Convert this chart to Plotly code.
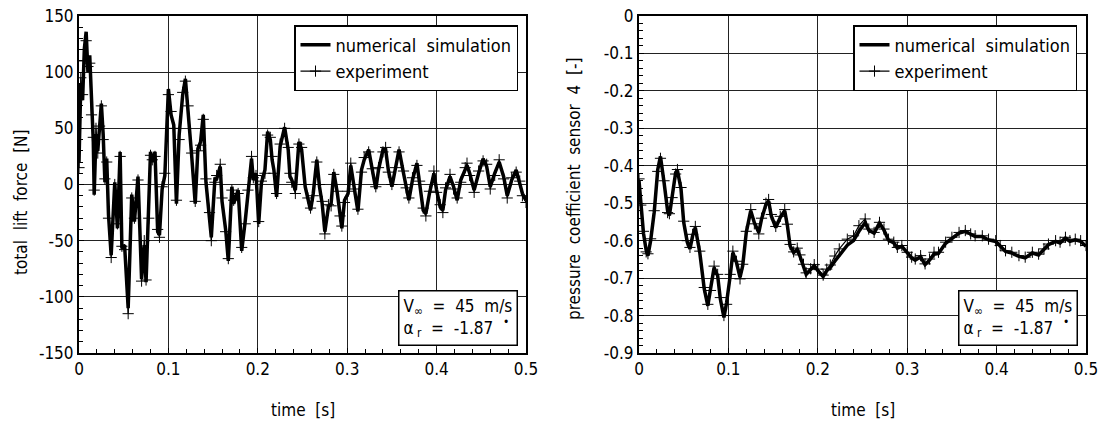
import plotly.graph_objects as go

# ---------------- data: left panel (total lift force) ----------------
t_left = [
    0.000, 0.002, 0.004, 0.006, 0.008, 0.010, 0.012, 0.014, 0.016, 0.017,
    0.019, 0.021, 0.023, 0.025, 0.027, 0.029, 0.031, 0.033, 0.036, 0.040,
    0.043, 0.046, 0.048, 0.051, 0.055, 0.059, 0.062, 0.066, 0.070, 0.073,
    0.075, 0.078, 0.080, 0.082, 0.085, 0.088, 0.090, 0.093, 0.096, 0.100,
    0.103, 0.106, 0.109, 0.112, 0.116, 0.119, 0.122, 0.126, 0.130, 0.133,
    0.136, 0.139, 0.142, 0.146, 0.148, 0.152, 0.154, 0.158, 0.160, 0.164,
    0.167, 0.171, 0.173, 0.178, 0.182, 0.186, 0.189, 0.193, 0.195, 0.198,
    0.201, 0.204, 0.208, 0.211, 0.214, 0.216, 0.218, 0.221, 0.225, 0.230,
    0.234, 0.236, 0.238, 0.242, 0.246, 0.249, 0.253, 0.256, 0.259, 0.262,
    0.266, 0.269, 0.272, 0.275, 0.279, 0.282, 0.285, 0.289, 0.292, 0.294,
    0.297, 0.301, 0.304, 0.308, 0.312, 0.316, 0.319, 0.324, 0.328, 0.332,
    0.335, 0.340, 0.343, 0.346, 0.350, 0.354, 0.358, 0.363, 0.366, 0.369,
    0.373, 0.378, 0.381, 0.385, 0.388, 0.392, 0.397, 0.400, 0.404, 0.407,
    0.410, 0.415, 0.419, 0.423, 0.427, 0.432, 0.434, 0.437, 0.442, 0.447,
    0.452, 0.456, 0.460, 0.465, 0.470, 0.475, 0.479, 0.484, 0.489, 0.493,
    0.496, 0.500,
]
sim_left = [
    20, 90, 75, 121, 136, 100, 115, 68, 38, -9,
    45, 30, 55, 72, 45, 2, 23, -27, -63, 2,
    -39, 29, -57, -54, -110, -9, -33, 7, -84, -54,
    -87, -27, 29, 20, 29, -42, -45, -4, 8, 85,
    62, 53, -17, 44, 80, 94, 68, 26, -17, 32,
    38, 62, 2, -27, -47, 5, 5, 16, -15, -40,
    -68, -2, -17, -5, -59, -32, -8, 23, 4, 10,
    -35, 1, 13, 47, 40, 22, 13, -11, 34, 51,
    31, 7, 4, -5, 38, 31, -2, -14, -23, -8,
    22, -2, -17, -42, -20, -17, 11, -8, -26, -39,
    -14, -8, 17, -2, -24, 13, 22, 31, 12, -4,
    13, 31, 31, 13, -2, 13, 31, 10, -1, -14,
    4, 19, 1, -23, -26, -8, 10, -5, -20, -23,
    -5, 7, -2, -14, 4, 13, 17, 10, -5, 10,
    23, 16, -2, 10, 20, 7, -10, 4, 13, 1,
    -8, -14,
]
exp_left = [
    15, 95, 80, 110, 128, 105, 108, 62, 42, -5,
    50, 28, 52, 70, 40, 5, 20, -30, -65, 0,
    -35, 25, -55, -58, -115, -12, -30, 4, -86, -50,
    -85, -30, 26, 22, 25, -40, -47, -2, 10, 80,
    65, 50, -14, 40, 82, 92, 70, 28, -15, 30,
    35, 58, 5, -25, -50, 2, 8, 18, -12, -42,
    -66, -5, -14, -8, -56, -35, -5, 25, 6, 8,
    -33, 3, 10, 44, 42, 25, 10, -8, 36, 50,
    33, 10, 2, -8, 36, 33, 0, -12, -21, -10,
    20, 0, -15, -44, -18, -19, 9, -6, -28, -37,
    -16, -6, 19, -4, -22, 11, 24, 29, 14, -2,
    15, 29, 33, 11, 0, 15, 29, 12, -3, -12,
    6, 17, 3, -21, -28, -6, 12, -7, -18, -25,
    -3, 9, -4, -12, 2, 15, 19, 8, -7, 12,
    21, 18, -4, 8, 22, 5, -12, 6, 11, 3,
    -10, -16,
]

# ---------------- data: right panel (pressure coefficient sensor 4) ----------------
t_right = [
    0.000, 0.002, 0.005, 0.008, 0.010, 0.013, 0.017, 0.021, 0.024, 0.028,
    0.032, 0.034, 0.037, 0.041, 0.043, 0.047, 0.050, 0.054, 0.057, 0.060,
    0.063, 0.068, 0.073, 0.077, 0.080, 0.084, 0.088, 0.091, 0.095, 0.098,
    0.102, 0.105, 0.109, 0.113, 0.116, 0.120, 0.125, 0.129, 0.134, 0.137,
    0.142, 0.145, 0.148, 0.153, 0.158, 0.163, 0.166, 0.169, 0.173, 0.177,
    0.180, 0.184, 0.187, 0.192, 0.196, 0.200, 0.206, 0.210, 0.214, 0.219,
    0.224, 0.233, 0.240, 0.246, 0.253, 0.257, 0.263, 0.269, 0.274, 0.279,
    0.285, 0.289, 0.294, 0.300, 0.305, 0.309, 0.315, 0.320, 0.325, 0.330,
    0.335, 0.343, 0.350, 0.358, 0.365, 0.371, 0.376, 0.384, 0.391, 0.399,
    0.404, 0.410, 0.417, 0.425, 0.432, 0.440, 0.447, 0.453, 0.458, 0.466,
    0.471, 0.477, 0.482, 0.488, 0.494, 0.500,
]
sim_right = [
    -0.44, -0.50, -0.58, -0.625, -0.64, -0.60, -0.524, -0.41, -0.375, -0.444,
    -0.52, -0.533, -0.489, -0.418, -0.413, -0.462, -0.551, -0.604, -0.622, -0.587,
    -0.565, -0.632, -0.729, -0.774, -0.729, -0.672, -0.694, -0.756, -0.805, -0.765,
    -0.694, -0.632, -0.658, -0.698, -0.667, -0.578, -0.52, -0.552, -0.578, -0.543,
    -0.503, -0.494, -0.534, -0.565, -0.538, -0.52, -0.56, -0.614, -0.632, -0.623,
    -0.641, -0.667, -0.69, -0.677, -0.667, -0.68, -0.696, -0.68, -0.672, -0.655,
    -0.64, -0.612, -0.60, -0.575, -0.552, -0.572, -0.58, -0.553, -0.572, -0.598,
    -0.606, -0.62, -0.615, -0.633, -0.646, -0.652, -0.643, -0.664, -0.652, -0.636,
    -0.634, -0.607, -0.593, -0.58, -0.575, -0.584, -0.589, -0.589, -0.598, -0.602,
    -0.615, -0.629, -0.633, -0.642, -0.646, -0.633, -0.638, -0.624, -0.611, -0.602,
    -0.606, -0.593, -0.602, -0.598, -0.602, -0.615,
]
exp_right = [
    -0.435, -0.505, -0.575, -0.63, -0.635, -0.595, -0.52, -0.415, -0.38, -0.44,
    -0.525, -0.528, -0.485, -0.422, -0.41, -0.458, -0.548, -0.60, -0.618, -0.583,
    -0.562, -0.628, -0.725, -0.77, -0.733, -0.668, -0.69, -0.752, -0.80, -0.77,
    -0.69, -0.628, -0.655, -0.702, -0.663, -0.575, -0.517, -0.555, -0.582, -0.54,
    -0.50, -0.49, -0.53, -0.562, -0.535, -0.517, -0.556, -0.61, -0.63, -0.62,
    -0.638, -0.663, -0.686, -0.675, -0.664, -0.676, -0.692, -0.676, -0.665, -0.641,
    -0.622, -0.596, -0.587, -0.56, -0.542, -0.569, -0.578, -0.551, -0.569, -0.596,
    -0.604, -0.618, -0.613, -0.631, -0.644, -0.649, -0.64, -0.662, -0.649, -0.631,
    -0.631, -0.604, -0.591, -0.578, -0.573, -0.582, -0.587, -0.587, -0.596, -0.60,
    -0.613, -0.627, -0.631, -0.64, -0.644, -0.631, -0.636, -0.622, -0.609, -0.60,
    -0.604, -0.591, -0.60, -0.596, -0.60, -0.613,
]

# ---------------- tick labels ----------------
x_tickvals = [0, 0.1, 0.2, 0.3, 0.4, 0.5]
x_ticktext = ["0", "0.1", "0.2", "0.3", "0.4", "0.5"]
yl_tickvals = [150, 100, 50, 0, -50, -100, -150]
yl_ticktext = ["150", "100", "50", "0", "-50", "-100", "-150"]
yr_tickvals = [0, -0.1, -0.2, -0.3, -0.4, -0.5, -0.6, -0.7, -0.8, -0.9]
yr_ticktext = ["0", "-0.1", "-0.2", "-0.3", "-0.4", "-0.5", "-0.6", "-0.7", "-0.8", "-0.9"]

W, H = 1105, 424
FONT = "DejaVu Sans Condensed, DejaVu Sans, sans-serif"
SP = "\u00a0\u00a0"


def px(p):
    return p / W


def py(p):
    return 1 - p / H


fig = go.Figure()

for (t, sim, exp, xa, ya, lg) in [
    (t_left, sim_left, exp_left, "x", "y", "legend"),
    (t_right, sim_right, exp_right, "x2", "y2", "legend2"),
]:
    fig.add_trace(go.Scatter(
        x=t, y=sim, mode="lines", name="numerical\u00a0\u00a0simulation",
        line=dict(color="black", width=3.5), xaxis=xa, yaxis=ya, legend=lg,
    ))
    fig.add_trace(go.Scatter(
        x=t, y=exp, mode="lines+markers", name="experiment",
        line=dict(color="black", width=1.2),
        marker=dict(symbol="cross-thin", size=8, color="black",
                    line=dict(color="black", width=1)),
        xaxis=xa, yaxis=ya, legend=lg,
    ))

common = dict(
    showline=True, linecolor="black", linewidth=2, mirror=True,
    showgrid=True, gridcolor="#222222", gridwidth=1,
    ticks="inside", ticklen=5, tickcolor="black", tickwidth=1,
    tickfont=dict(family=FONT, size=17, color="black"),
    zeroline=False, tickmode="array", automargin=False,
)

y0, y1 = py(353), py(16)

fig.update_layout(
    template="none",
    width=W, height=H,
    margin=dict(l=0, r=0, t=0, b=0, autoexpand=False),
    paper_bgcolor="white", plot_bgcolor="white",
    font=dict(family=FONT, size=17, color="black"),
    xaxis=dict(domain=[px(79), px(526)], range=[0, 0.5], anchor="y",
               tickvals=x_tickvals, ticktext=x_ticktext,
               minor=dict(dtick=0.02, ticks="inside", ticklen=4, tickcolor="black", showgrid=False),
               **common),
    yaxis=dict(domain=[y0, y1], range=[-150, 150], anchor="x",
               tickvals=yl_tickvals, ticktext=yl_ticktext,
               minor=dict(dtick=10, ticks="inside", ticklen=4, tickcolor="black", showgrid=False),
               **common),
    xaxis2=dict(domain=[px(639), px(1086)], range=[0, 0.5], anchor="y2",
                tickvals=x_tickvals, ticktext=x_ticktext,
                minor=dict(dtick=0.02, ticks="inside", ticklen=4, tickcolor="black", showgrid=False),
                **common),
    yaxis2=dict(domain=[y0, y1], range=[-0.9, 0], anchor="x2",
                tickvals=yr_tickvals, ticktext=yr_ticktext,
                minor=dict(dtick=0.02, ticks="inside", ticklen=4, tickcolor="black", showgrid=False),
                **common),
    legend=dict(x=px(518), y=py(25), xanchor="right", yanchor="top",
                bordercolor="black", borderwidth=1.5, bgcolor="white",
                font=dict(family=FONT, size=18, color="black"), tracegroupgap=0),
    legend2=dict(x=px(1077), y=py(25), xanchor="right", yanchor="top",
                 bordercolor="black", borderwidth=1.5, bgcolor="white",
                 font=dict(family=FONT, size=18, color="black"), tracegroupgap=0),
)

box_text = ("V<sub>\u221e</sub>\u00a0\u00a0=\u00a0\u00a045\u00a0\u00a0m/s<br>"
            "\u03b1<sub>\u00a0r</sub>\u00a0\u00a0=\u00a0\u00a0-1.87\u00a0\u00a0<sup>\u2022</sup>")

annos = [
    dict(text="time" + SP + "[s]", x=px(302.5), y=py(410)),
    dict(text="time" + SP + "[s]", x=px(862.5), y=py(410)),
    dict(text="total" + SP + "lift" + SP + "force" + SP + "[N]", x=px(21), y=py(202), textangle=-90),
    dict(text="pressure" + SP + "coefficient" + SP + "sensor" + SP + "4" + SP + "[-]",
         x=px(574), y=py(189), textangle=-90),
]
for a in annos:
    fig.add_annotation(xref="paper", yref="paper", showarrow=False,
                       xanchor="center", yanchor="middle",
                       font=dict(family=FONT, size=17, color="black"), **a)

for xr in (518, 1078):
    fig.add_annotation(xref="paper", yref="paper", x=px(xr), y=py(346),
                       xanchor="right", yanchor="bottom", showarrow=False,
                       text=box_text, align="left",
                       bordercolor="black", borderwidth=1.5, borderpad=4,
                       bgcolor="white",
                       font=dict(family=FONT, size=17, color="black"))

fig.write_html(
    "out.html",
    config={"displayModeBar": False},
    post_script="document.body.style.margin='0px';document.body.style.overflow='hidden';",
)
